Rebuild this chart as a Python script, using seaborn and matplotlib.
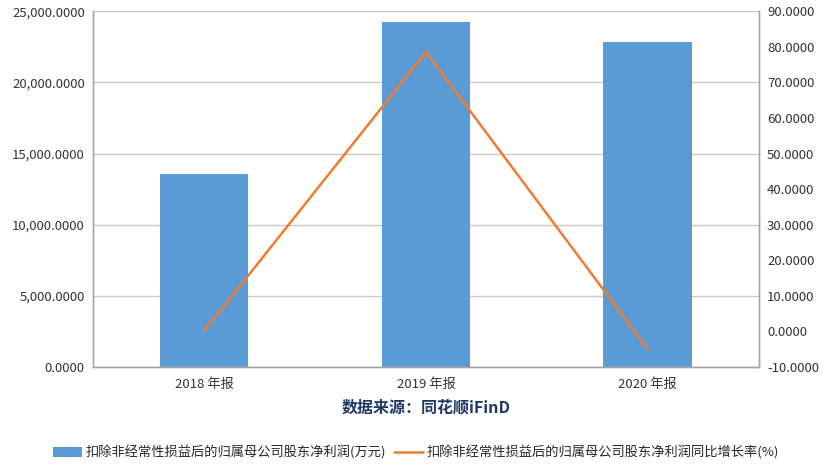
import matplotlib
matplotlib.use("Agg")
import matplotlib.pyplot as plt
from matplotlib.ticker import FuncFormatter, MultipleLocator
import seaborn as sns
import pandas as pd

# 数据
periods = ["2018 年报", "2019 年报", "2020 年报"]
profit = [13600, 24250, 22850]          # 扣非归母净利润(万元)
growth = [0.1, 78.6, -5.0]              # 同比增长率(%)

bar_label = "扣除非经常性损益后的归属母公司股东净利润(万元)"
line_label = "扣除非经常性损益后的归属母公司股东净利润同比增长率(%)"

df = pd.DataFrame({"period": periods, "profit": profit, "growth": growth})

sns.set_style("white")
plt.rcParams["font.family"] = ["Noto Sans CJK SC", "DejaVu Sans"]

fig = plt.figure(figsize=(8.32, 4.70), dpi=100)
ax = fig.add_axes([0.112, 0.219, 0.800, 0.757])

sns.barplot(data=df, x="period", y="profit", color="#5B9BD5", width=0.4,
            saturation=1, ax=ax, label=bar_label, zorder=2, linewidth=0)
if ax.get_legend() is not None:
    ax.get_legend().remove()
ax.set_ylim(0, 25000)
ax.yaxis.set_major_locator(MultipleLocator(5000))
ax.yaxis.set_major_formatter(FuncFormatter(lambda v, p: f"{v:,.4f}"))
ax.grid(axis="y", color="#C8C8C8", linewidth=1, zorder=0)
ax.set_axisbelow(True)
ax.set_xlim(-0.5, 2.5)

ax2 = ax.twinx()
sns.lineplot(x=[0, 1, 2], y=df["growth"], color="#ED7D31", linewidth=1.8,
             ax=ax2, label=line_label, legend=False)
ax2.set_ylim(-10, 90)
ax2.yaxis.set_major_locator(MultipleLocator(10))
ax2.yaxis.set_major_formatter(FuncFormatter(lambda v, p: f"{v:.4f}"))
ax2.set_ylabel("")

for a in (ax, ax2):
    a.spines["top"].set_visible(False)
    for s in ("left", "right", "bottom"):
        a.spines[s].set_color("#A6A6A6")
        a.spines[s].set_linewidth(1)
    a.tick_params(axis="both", length=0, labelsize=9.5, colors="#333333")
ax2.tick_params(axis="y", pad=6)
ax.tick_params(axis="y", pad=6)
ax.tick_params(axis="x", pad=8)

ax.set_ylabel("")
ax.set_xlabel("数据来源：同花顺iFinD", fontsize=11.5, fontweight="bold",
              color="#1F3864", labelpad=6)

h1, l1 = ax.get_legend_handles_labels()
h2, l2 = ax2.get_legend_handles_labels()
fig.legend(h1 + h2, l1 + l2, loc="center", bbox_to_anchor=(0.5, 0.037),
           ncol=2, frameon=False, fontsize=9.5, handlelength=2.2,
           handletextpad=0.3, columnspacing=0.6)

fig.savefig("out.png", dpi=100)
